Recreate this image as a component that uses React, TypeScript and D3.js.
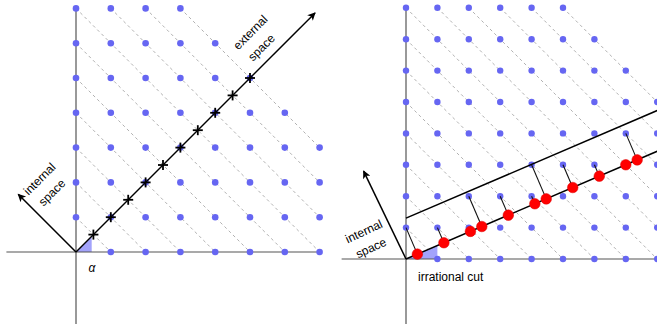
import React from "react";
import * as d3 from "d3";

// lattice extents (grid units) for each panel
const leftColumns = [0, 1, 2, 3, 4, 5, 6, 7];
const leftRows = [0, 1, 2, 3, 4, 5, 6, 7];
const leftMaxSum = 10;
const rightColumns = [0, 1, 2, 3, 4, 5, 6, 7, 8];
const rightRows = [0, 1, 2, 3, 4, 5, 6, 7, 8];
const rightMaxSum = 13;

// diagonal lines i + j = k
const leftDiagonals = [1, 2, 3, 4, 5, 6, 7, 8, 9, 10];
const rightDiagonals = [1, 2, 3, 4, 5, 6, 7, 8, 9, 10, 11, 12, 13];

// projections onto the 45 degree external space
const externalMarks = [0.5, 1, 1.5, 2, 2.5, 3, 3.5, 4, 4.5, 5];

// irrational cut
const cutSlope = 0.4287;
const windowOffset = 1.3;
const cutPoints: [number, number][] = [
  [0, 1], [1, 1], [2, 1], [2, 2], [3, 2], [4, 2],
  [4, 3], [5, 3], [6, 3], [7, 3], [7, 4],
];

const FONT = "'Liberation Sans', Arial, sans-serif";
const DOT = "#6666f2";
const DASH = "#a8a8a8";
const AXIS = "#555";

const lattice = (cols: number[], rows: number[], maxSum: number) => {
  const pts: [number, number][] = [];
  rows.forEach(j => cols.forEach(i => {
    if (i + j <= maxSum && !(i === 0 && j === 0)) pts.push([i, j]);
  }));
  return pts;
};

const LeftPanel = () => {
  const x = d3.scaleLinear().domain([0, 1]).range([76, 110.8]);
  const y = d3.scaleLinear().domain([0, 1]).range([252, 217.2]);
  const maxI = d3.max(leftColumns)!;
  const maxJ = d3.max(leftRows)!;
  const pts = lattice(leftColumns, leftRows, leftMaxSum);
  const ext = 6.87;
  return (
    <g>
      {leftDiagonals.map(k => {
        const x0 = Math.max(0, k - maxJ), x1 = Math.min(k, maxI + 0.05);
        return <line key={k} x1={x(x0)} y1={y(k - x0)} x2={x(x1)} y2={y(k - x1)}
          stroke={DASH} strokeWidth={0.9} strokeDasharray="3,3" />;
      })}
      <path d={`M${x(0)},${y(0)}L${x(0.45)},${y(0)}L${x(0.45)},${y(0.45)}Z`} fill="#a3a3fb" />
      <line x1={x(-2)} y1={y(0)} x2={x(7.05)} y2={y(0)} stroke={AXIS} strokeWidth={1.2} />
      <line x1={x(0)} y1={y(7.05)} x2={x(0)} y2={y(-2.1)} stroke={AXIS} strokeWidth={1.2} />
      {pts.map(([i, j]) => <circle key={`${i}-${j}`} cx={x(i)} cy={y(j)} r={3.3} fill={DOT} />)}
      <line x1={x(0)} y1={y(0)} x2={x(ext)} y2={y(ext)} stroke="#000" strokeWidth={1.5} markerEnd="url(#arrow)" />
      <line x1={x(0)} y1={y(0)} x2={x(-1.66)} y2={y(1.66)} stroke="#000" strokeWidth={1.5} markerEnd="url(#arrow)" />
      {externalMarks.map(m => (
        <g key={m} stroke="#000" strokeWidth={1.8}>
          <line x1={x(m) - 5} y1={y(m)} x2={x(m) + 5} y2={y(m)} />
          <line x1={x(m)} y1={y(m) - 5} x2={x(m)} y2={y(m) + 5} />
        </g>
      ))}
      <g fontFamily={FONT} fontSize={12} textAnchor="middle" dominantBaseline="central">
        <text transform="translate(250.5,32.5) rotate(-45)">external</text>
        <text transform="translate(261.5,47.5) rotate(-45)">space</text>
        <text transform="translate(39.7,179) rotate(-45)">internal</text>
        <text transform="translate(52,192.5) rotate(-45)">space</text>
        <text x={92} y={268} fontStyle="italic">α</text>
      </g>
    </g>
  );
};

const RightPanel = () => {
  const x = d3.scaleLinear().domain([0, 1]).range([406, 437.4]);
  const y = d3.scaleLinear().domain([0, 1]).range([259, 227.6]);
  const maxI = d3.max(rightColumns)!;
  const maxJ = d3.max(rightRows)!;
  const pts = lattice(rightColumns, rightRows, rightMaxSum);
  const proj = ([i, j]: [number, number]) => {
    const a = (i + j * cutSlope) / (1 + cutSlope * cutSlope);
    return [a, a * cutSlope];
  };
  const xEnd = 8;
  return (
    <g>
      {rightDiagonals.map(k => {
        const x0 = Math.max(0, k - maxJ), x1 = Math.min(k, maxI);
        return <line key={k} x1={x(x0)} y1={y(k - x0)} x2={x(x1)} y2={y(k - x1)}
          stroke={DASH} strokeWidth={0.9} strokeDasharray="3,3" />;
      })}
      <path d={`M${x(0)},${y(0)}L${x(1)},${y(0)}L${x(1)},${y(cutSlope)}Z`} fill="#a3a3fb" />
      <line x1={x(-2.05)} y1={y(0)} x2={x(8)} y2={y(0)} stroke={AXIS} strokeWidth={1.2} />
      <line x1={x(0)} y1={y(8.05)} x2={x(0)} y2={y(-2.1)} stroke={AXIS} strokeWidth={1.2} />
      {pts.map(([i, j]) => <circle key={`${i}-${j}`} cx={x(i)} cy={y(j)} r={3.2} fill={DOT} />)}
      {cutPoints.map(p => {
        const [px, py] = proj(p);
        return <line key={`p${p}`} x1={x(p[0])} y1={y(p[1])} x2={x(px)} y2={y(py)} stroke="#111" strokeWidth={1.1} />;
      })}
      <line x1={x(0)} y1={y(0)} x2={x(xEnd)} y2={y(xEnd * cutSlope)} stroke="#000" strokeWidth={1.5} />
      <line x1={x(0)} y1={y(windowOffset)} x2={x(xEnd)} y2={y(windowOffset + xEnd * cutSlope)} stroke="#000" strokeWidth={1.5} />
      {cutPoints.map(p => {
        const [px, py] = proj(p);
        return <circle key={`r${p}`} cx={x(px)} cy={y(py)} r={5.3} fill="#ff0000" stroke="#d00" strokeWidth={0.5} />;
      })}
      <line x1={x(0)} y1={y(0)} x2={x(-1.35)} y2={y(2.8)} stroke="#000" strokeWidth={1.5} markerEnd="url(#arrow)" />
      <g fontFamily={FONT} fontSize={12} textAnchor="middle" dominantBaseline="central">
        <text transform="translate(364,231.5) rotate(-25)">internal</text>
        <text transform="translate(371,248) rotate(-25)">space</text>
        <text x={418} y={277} textAnchor="start">irrational cut</text>
      </g>
    </g>
  );
};

export default function App() {
  return (
    <svg width={657} height={324} style={{ position: "absolute", left: 0, top: 0, background: "#fff" }}>
      <defs>
        <marker id="arrow" viewBox="0 0 10 10" refX={9} refY={5} markerWidth={11} markerHeight={8}
          markerUnits="userSpaceOnUse" orient="auto">
          <path d="M0,0L10,5L0,10L2.5,5Z" fill="#000" />
        </marker>
      </defs>
      <LeftPanel />
      <RightPanel />
    </svg>
  );
}
